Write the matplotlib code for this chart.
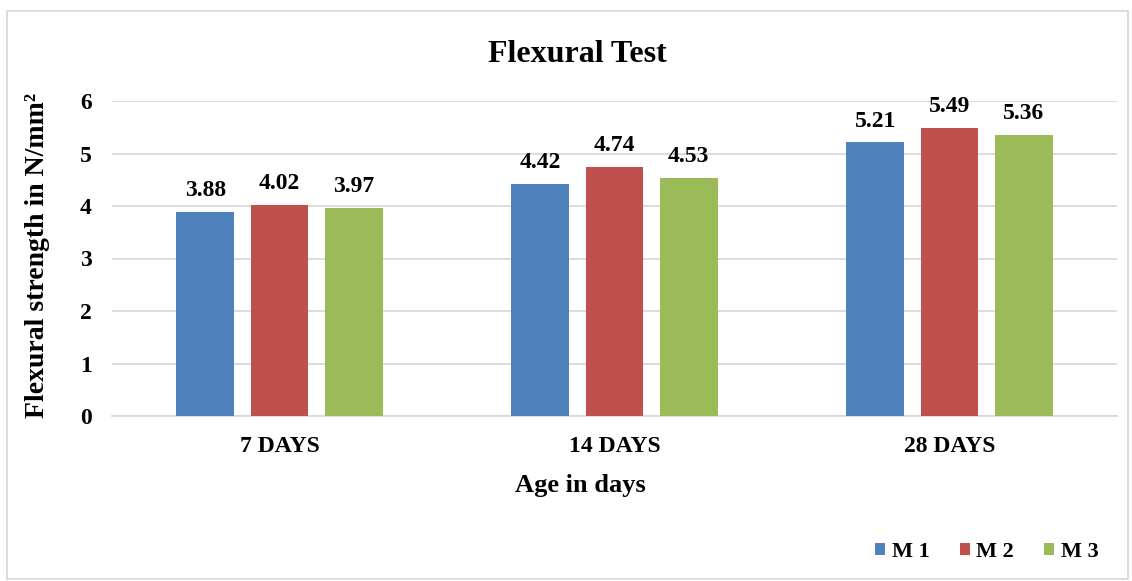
import matplotlib
matplotlib.use("Agg")
import matplotlib.pyplot as plt
import numpy as np
from matplotlib.patches import Rectangle

categories = ["7 DAYS", "14 DAYS", "28 DAYS"]
series_names = ["M 1", "M 2", "M 3"]
m1 = [3.88, 4.42, 5.21]
m2 = [4.02, 4.74, 5.49]
m3 = [3.97, 4.53, 5.36]
colors = ["#4F81BD", "#C0504D", "#9BBB59"]

plt.rcParams['font.family'] = ['Liberation Serif', 'DejaVu Serif']
plt.rcParams['font.weight'] = 'bold'

W, H = 1132, 581
fig = plt.figure(figsize=(W/100, H/100), dpi=100)
ax = fig.add_axes([112/W, 1-416/H, (1117-112)/W, (416-101)/H])

x = np.arange(len(categories))
width = 0.173
step = 0.221
for i, (vals, name, c) in enumerate(zip([m1, m2, m3], series_names, colors)):
    pos = x + (i-1)*step
    ax.bar(pos, vals, width, color=c, label=name, zorder=3)
    for p, v in zip(pos, vals):
        ax.annotate(f"{v:.2f}", (p, v), xytext=(0, 11.5), textcoords='offset points',
                    ha='center', va='baseline', fontsize=17, fontweight='bold')

ax.set_ylim(0, 6)
ax.set_xlim(-0.5, 2.5)
ax.set_yticks(range(0, 7))
ax.yaxis.grid(True, color='#D9D9D9', linewidth=1.3, zorder=0)
for s in ['top', 'right', 'left']:
    ax.spines[s].set_visible(False)
ax.spines['bottom'].set_color('#D9D9D9')
ax.spines['bottom'].set_linewidth(1.3)
ax.tick_params(axis='both', length=0, labelsize=17)
ax.tick_params(axis='y', pad=14.4)
ax.tick_params(axis='x', pad=14.5)
ax.set_xticks(x)
ax.set_xticklabels(categories, fontweight='bold')
for t in ax.get_yticklabels():
    t.set_fontweight('bold')

fig.text(580/W, 1-492/H, "Age in days", ha='center', va='baseline',
         fontsize=19, fontweight='bold')
fig.text(38/W, 1-255/H, "Flexural strength in N/mm²", ha='center', va='center',
         rotation=90, fontsize=20, fontweight='bold')

fig.text(577/W, 1-62/H, "Flexural Test", ha='center', va='baseline',
         fontsize=23, fontweight='bold')

leg = fig.legend(loc='center', bbox_to_anchor=(987/W, 1-552/H), ncol=3,
                 frameon=False, fontsize=16, handlelength=0.45, handleheight=0.45,
                 handletextpad=0.3, columnspacing=1.35)

fig.patches.append(Rectangle((7/W, 1-579/H), (1128-7)/W, (579-11)/H,
                             transform=fig.transFigure, fill=False,
                             edgecolor='#D9D9D9', linewidth=1.3))

fig.savefig("out.png", dpi=100)
